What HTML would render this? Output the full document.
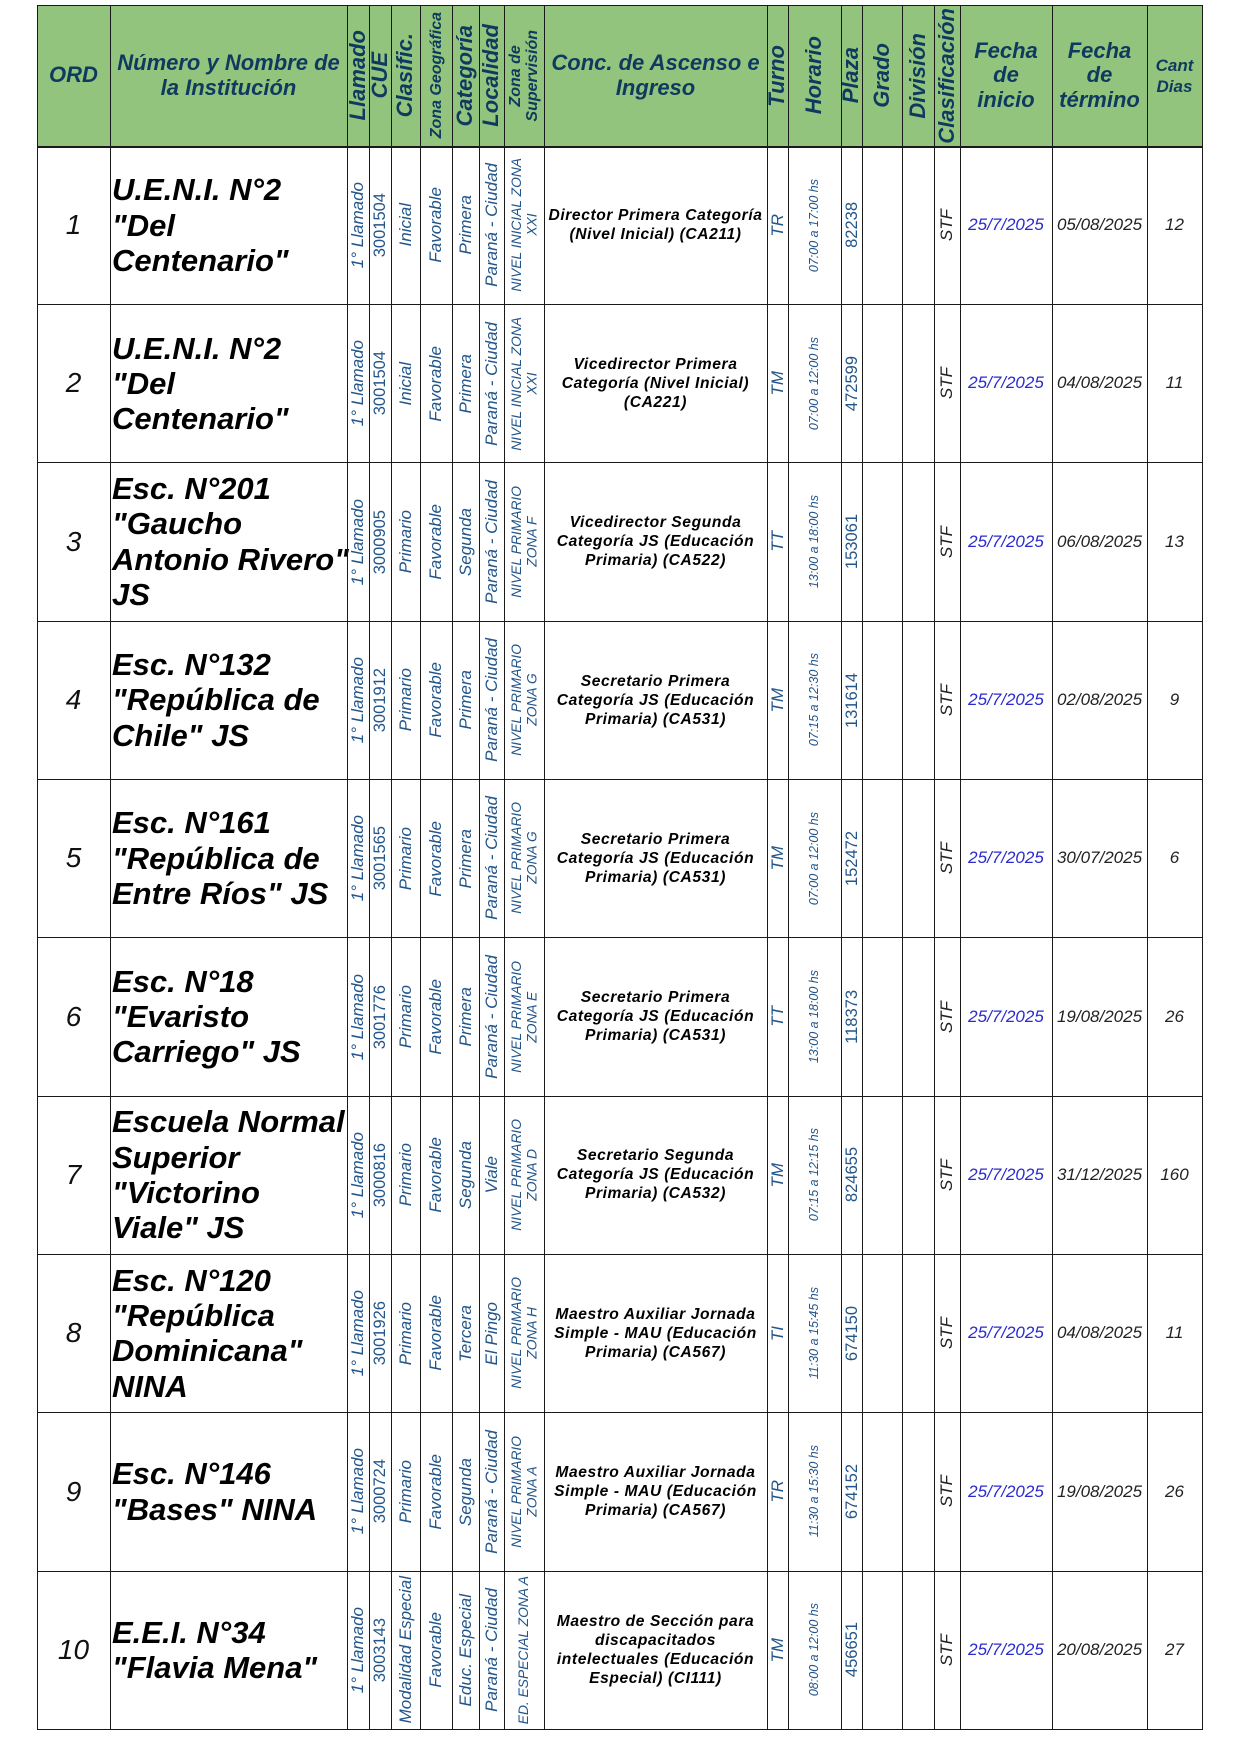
<!DOCTYPE html>
<html>
<head>
<meta charset="utf-8">
<style>
html,body{margin:0;padding:0;background:#fff;}
body{width:1240px;height:1755px;position:relative;overflow:hidden;font-family:"Liberation Sans",Arial,sans-serif;}
.hdr{position:absolute;left:37px;top:5px;width:1166px;height:141px;background:#93c47d;}
.vl{position:absolute;top:5px;width:1px;height:1725px;background:#1a1a1a;}
.hl{position:absolute;left:37px;width:1166px;height:1px;background:#1a1a1a;}
.row{position:absolute;left:0;width:1240px;height:158.3px;}
.hrow{position:absolute;left:0;top:5px;width:1240px;height:141px;}
.c{position:absolute;top:0;height:100%;display:flex;align-items:center;justify-content:center;text-align:center;white-space:nowrap;}
.r{writing-mode:vertical-rl;transform:rotate(180deg);white-space:nowrap;}
.k0{left:37px;width:73px}
.k1{left:110px;width:237px}
.k2{left:347px;width:22px}
.k3{left:369px;width:22px}
.k4{left:391px;width:29px}
.k5{left:420px;width:32px}
.k6{left:452px;width:27px}
.k7{left:479px;width:25px}
.k8{left:504px;width:40px}
.k9{left:544px;width:223px}
.k10{left:767px;width:21px}
.k11{left:788px;width:53px}
.k12{left:841px;width:21px}
.k13{left:862px;width:40px}
.k14{left:902px;width:32px}
.k15{left:934px;width:26px}
.k16{left:960px;width:92px}
.k17{left:1052px;width:95px}
.k18{left:1147px;width:55px}
/* header text */
.H{color:#0f3a5f;font-weight:bold;font-style:italic;font-size:22px;line-height:24.5px;}
.Hs{color:#0f3a5f;font-weight:bold;font-style:italic;font-size:16px;line-height:17px;}
.Hc{color:#0f3a5f;font-weight:bold;font-style:italic;font-size:17px;line-height:21px;}
/* body text */
.ord{font-style:italic;font-size:28px;color:#111;}
.nm{justify-content:flex-start;text-align:left;padding-left:2px;box-sizing:border-box;font-weight:bold;font-style:italic;font-size:31px;line-height:35.3px;color:#000;}
.bl{color:#22558a;font-style:italic;font-size:17px;line-height:20px;}
.bn{color:#22558a;font-style:normal;font-size:16.5px;line-height:20px;}
.zs{color:#22558a;font-style:italic;font-size:13.8px;line-height:15.5px;}
.hor{color:#22558a;font-style:italic;font-size:12.5px;line-height:15px;}
.cc{font-weight:bold;font-style:italic;font-size:15.6px;letter-spacing:0.6px;line-height:19px;color:#000;}
.stf{font-style:italic;font-size:17px;color:#222;line-height:20px;}
.di{font-style:italic;font-size:17px;color:#2b2bcf;}
.dt{font-style:italic;font-size:17px;color:#222;}
</style>
</head>
<body>
<div class="hdr"></div>

<!-- header -->
<div class="hrow">
<div class="c k0 H">ORD</div>
<div class="c k1 H">Número y Nombre de<br>la Institución</div>
<div class="c k2 H"><span class="r">Llamado</span></div>
<div class="c k3 H"><span class="r">CUE</span></div>
<div class="c k4 H"><span class="r">Clasific.</span></div>
<div class="c k5 Hs"><span class="r">Zona Geográfica</span></div>
<div class="c k6 H"><span class="r">Categoría</span></div>
<div class="c k7 H"><span class="r">Localidad</span></div>
<div class="c k8 Hs"><span class="r">Zona de<br>Supervisión</span></div>
<div class="c k9 H">Conc. de Ascenso e<br>Ingreso</div>
<div class="c k10 H"><span class="r">Turno</span></div>
<div class="c k11 H"><span class="r">Horario</span></div>
<div class="c k12 H"><span class="r">Plaza</span></div>
<div class="c k13 H"><span class="r">Grado</span></div>
<div class="c k14 H"><span class="r">División</span></div>
<div class="c k15 H"><span class="r">Clasificación</span></div>
<div class="c k16 H">Fecha<br>de<br>inicio</div>
<div class="c k17 H">Fecha<br>de<br>término</div>
<div class="c k18 Hc">Cant<br>Dias</div>
</div>

<!-- row 1 -->
<div class="row" style="top:146px">
<div class="c k0 ord">1</div>
<div class="c k1 nm">U.E.N.I. N°2<br>"Del<br>Centenario"</div>
<div class="c k2 bl"><span class="r">1° Llamado</span></div>
<div class="c k3 bn"><span class="r">3001504</span></div>
<div class="c k4 bl"><span class="r">Inicial</span></div>
<div class="c k5 bl"><span class="r">Favorable</span></div>
<div class="c k6 bl"><span class="r">Primera</span></div>
<div class="c k7 bl"><span class="r">Paraná - Ciudad</span></div>
<div class="c k8 zs"><span class="r">NIVEL INICIAL ZONA<br>XXI</span></div>
<div class="c k9 cc">Director Primera Categoría<br>(Nivel Inicial) (CA211)</div>
<div class="c k10 bl"><span class="r">TR</span></div>
<div class="c k11 hor"><span class="r">07:00 a 17:00 hs</span></div>
<div class="c k12 bn"><span class="r">82238</span></div>
<div class="c k15 stf"><span class="r">STF</span></div>
<div class="c k16 di">25/7/2025</div>
<div class="c k17 dt">05/08/2025</div>
<div class="c k18 dt">12</div>
</div>

<!-- row 2 -->
<div class="row" style="top:304.3px">
<div class="c k0 ord">2</div>
<div class="c k1 nm">U.E.N.I. N°2<br>"Del<br>Centenario"</div>
<div class="c k2 bl"><span class="r">1° Llamado</span></div>
<div class="c k3 bn"><span class="r">3001504</span></div>
<div class="c k4 bl"><span class="r">Inicial</span></div>
<div class="c k5 bl"><span class="r">Favorable</span></div>
<div class="c k6 bl"><span class="r">Primera</span></div>
<div class="c k7 bl"><span class="r">Paraná - Ciudad</span></div>
<div class="c k8 zs"><span class="r">NIVEL INICIAL ZONA<br>XXI</span></div>
<div class="c k9 cc">Vicedirector Primera<br>Categoría (Nivel Inicial)<br>(CA221)</div>
<div class="c k10 bl"><span class="r">TM</span></div>
<div class="c k11 hor"><span class="r">07:00 a 12:00 hs</span></div>
<div class="c k12 bn"><span class="r">472599</span></div>
<div class="c k15 stf"><span class="r">STF</span></div>
<div class="c k16 di">25/7/2025</div>
<div class="c k17 dt">04/08/2025</div>
<div class="c k18 dt">11</div>
</div>

<!-- row 3 -->
<div class="row" style="top:462.6px">
<div class="c k0 ord">3</div>
<div class="c k1 nm">Esc. N°201<br>"Gaucho<br>Antonio Rivero"<br>JS</div>
<div class="c k2 bl"><span class="r">1° Llamado</span></div>
<div class="c k3 bn"><span class="r">3000905</span></div>
<div class="c k4 bl"><span class="r">Primario</span></div>
<div class="c k5 bl"><span class="r">Favorable</span></div>
<div class="c k6 bl"><span class="r">Segunda</span></div>
<div class="c k7 bl"><span class="r">Paraná - Ciudad</span></div>
<div class="c k8 zs"><span class="r">NIVEL PRIMARIO<br>ZONA F</span></div>
<div class="c k9 cc">Vicedirector Segunda<br>Categoría JS (Educación<br>Primaria) (CA522)</div>
<div class="c k10 bl"><span class="r">TT</span></div>
<div class="c k11 hor"><span class="r">13:00 a 18:00 hs</span></div>
<div class="c k12 bn"><span class="r">153061</span></div>
<div class="c k15 stf"><span class="r">STF</span></div>
<div class="c k16 di">25/7/2025</div>
<div class="c k17 dt">06/08/2025</div>
<div class="c k18 dt">13</div>
</div>

<!-- row 4 -->
<div class="row" style="top:620.9px">
<div class="c k0 ord">4</div>
<div class="c k1 nm">Esc. N°132<br>"República de<br>Chile" JS</div>
<div class="c k2 bl"><span class="r">1° Llamado</span></div>
<div class="c k3 bn"><span class="r">3001912</span></div>
<div class="c k4 bl"><span class="r">Primario</span></div>
<div class="c k5 bl"><span class="r">Favorable</span></div>
<div class="c k6 bl"><span class="r">Primera</span></div>
<div class="c k7 bl"><span class="r">Paraná - Ciudad</span></div>
<div class="c k8 zs"><span class="r">NIVEL PRIMARIO<br>ZONA G</span></div>
<div class="c k9 cc">Secretario Primera<br>Categoría JS (Educación<br>Primaria) (CA531)</div>
<div class="c k10 bl"><span class="r">TM</span></div>
<div class="c k11 hor"><span class="r">07:15 a 12:30 hs</span></div>
<div class="c k12 bn"><span class="r">131614</span></div>
<div class="c k15 stf"><span class="r">STF</span></div>
<div class="c k16 di">25/7/2025</div>
<div class="c k17 dt">02/08/2025</div>
<div class="c k18 dt">9</div>
</div>

<!-- row 5 -->
<div class="row" style="top:779.2px">
<div class="c k0 ord">5</div>
<div class="c k1 nm">Esc. N°161<br>"República de<br>Entre Ríos" JS</div>
<div class="c k2 bl"><span class="r">1° Llamado</span></div>
<div class="c k3 bn"><span class="r">3001565</span></div>
<div class="c k4 bl"><span class="r">Primario</span></div>
<div class="c k5 bl"><span class="r">Favorable</span></div>
<div class="c k6 bl"><span class="r">Primera</span></div>
<div class="c k7 bl"><span class="r">Paraná - Ciudad</span></div>
<div class="c k8 zs"><span class="r">NIVEL PRIMARIO<br>ZONA G</span></div>
<div class="c k9 cc">Secretario Primera<br>Categoría JS (Educación<br>Primaria) (CA531)</div>
<div class="c k10 bl"><span class="r">TM</span></div>
<div class="c k11 hor"><span class="r">07:00 a 12:00 hs</span></div>
<div class="c k12 bn"><span class="r">152472</span></div>
<div class="c k15 stf"><span class="r">STF</span></div>
<div class="c k16 di">25/7/2025</div>
<div class="c k17 dt">30/07/2025</div>
<div class="c k18 dt">6</div>
</div>

<!-- row 6 -->
<div class="row" style="top:937.5px">
<div class="c k0 ord">6</div>
<div class="c k1 nm">Esc. N°18<br>"Evaristo<br>Carriego" JS</div>
<div class="c k2 bl"><span class="r">1° Llamado</span></div>
<div class="c k3 bn"><span class="r">3001776</span></div>
<div class="c k4 bl"><span class="r">Primario</span></div>
<div class="c k5 bl"><span class="r">Favorable</span></div>
<div class="c k6 bl"><span class="r">Primera</span></div>
<div class="c k7 bl"><span class="r">Paraná - Ciudad</span></div>
<div class="c k8 zs"><span class="r">NIVEL PRIMARIO<br>ZONA E</span></div>
<div class="c k9 cc">Secretario Primera<br>Categoría JS (Educación<br>Primaria) (CA531)</div>
<div class="c k10 bl"><span class="r">TT</span></div>
<div class="c k11 hor"><span class="r">13:00 a 18:00 hs</span></div>
<div class="c k12 bn"><span class="r">118373</span></div>
<div class="c k15 stf"><span class="r">STF</span></div>
<div class="c k16 di">25/7/2025</div>
<div class="c k17 dt">19/08/2025</div>
<div class="c k18 dt">26</div>
</div>

<!-- row 7 -->
<div class="row" style="top:1095.8px">
<div class="c k0 ord">7</div>
<div class="c k1 nm">Escuela Normal<br>Superior<br>"Victorino<br>Viale" JS</div>
<div class="c k2 bl"><span class="r">1° Llamado</span></div>
<div class="c k3 bn"><span class="r">3000816</span></div>
<div class="c k4 bl"><span class="r">Primario</span></div>
<div class="c k5 bl"><span class="r">Favorable</span></div>
<div class="c k6 bl"><span class="r">Segunda</span></div>
<div class="c k7 bl"><span class="r">Viale</span></div>
<div class="c k8 zs"><span class="r">NIVEL PRIMARIO<br>ZONA D</span></div>
<div class="c k9 cc">Secretario Segunda<br>Categoría JS (Educación<br>Primaria) (CA532)</div>
<div class="c k10 bl"><span class="r">TM</span></div>
<div class="c k11 hor"><span class="r">07:15 a 12:15 hs</span></div>
<div class="c k12 bn"><span class="r">824655</span></div>
<div class="c k15 stf"><span class="r">STF</span></div>
<div class="c k16 di">25/7/2025</div>
<div class="c k17 dt">31/12/2025</div>
<div class="c k18 dt">160</div>
</div>

<!-- row 8 -->
<div class="row" style="top:1254.1px">
<div class="c k0 ord">8</div>
<div class="c k1 nm">Esc. N°120<br>"República<br>Dominicana"<br>NINA</div>
<div class="c k2 bl"><span class="r">1° Llamado</span></div>
<div class="c k3 bn"><span class="r">3001926</span></div>
<div class="c k4 bl"><span class="r">Primario</span></div>
<div class="c k5 bl"><span class="r">Favorable</span></div>
<div class="c k6 bl"><span class="r">Tercera</span></div>
<div class="c k7 bl"><span class="r">El Pingo</span></div>
<div class="c k8 zs"><span class="r">NIVEL PRIMARIO<br>ZONA H</span></div>
<div class="c k9 cc">Maestro Auxiliar Jornada<br>Simple - MAU (Educación<br>Primaria) (CA567)</div>
<div class="c k10 bl"><span class="r">TI</span></div>
<div class="c k11 hor"><span class="r">11:30 a 15:45 hs</span></div>
<div class="c k12 bn"><span class="r">674150</span></div>
<div class="c k15 stf"><span class="r">STF</span></div>
<div class="c k16 di">25/7/2025</div>
<div class="c k17 dt">04/08/2025</div>
<div class="c k18 dt">11</div>
</div>

<!-- row 9 -->
<div class="row" style="top:1412.4px">
<div class="c k0 ord">9</div>
<div class="c k1 nm">Esc. N°146<br>"Bases" NINA</div>
<div class="c k2 bl"><span class="r">1° Llamado</span></div>
<div class="c k3 bn"><span class="r">3000724</span></div>
<div class="c k4 bl"><span class="r">Primario</span></div>
<div class="c k5 bl"><span class="r">Favorable</span></div>
<div class="c k6 bl"><span class="r">Segunda</span></div>
<div class="c k7 bl"><span class="r">Paraná - Ciudad</span></div>
<div class="c k8 zs"><span class="r">NIVEL PRIMARIO<br>ZONA A</span></div>
<div class="c k9 cc">Maestro Auxiliar Jornada<br>Simple - MAU (Educación<br>Primaria) (CA567)</div>
<div class="c k10 bl"><span class="r">TR</span></div>
<div class="c k11 hor"><span class="r">11:30 a 15:30 hs</span></div>
<div class="c k12 bn"><span class="r">674152</span></div>
<div class="c k15 stf"><span class="r">STF</span></div>
<div class="c k16 di">25/7/2025</div>
<div class="c k17 dt">19/08/2025</div>
<div class="c k18 dt">26</div>
</div>

<!-- row 10 -->
<div class="row" style="top:1570.7px">
<div class="c k0 ord">10</div>
<div class="c k1 nm">E.E.I. N°34<br>"Flavia Mena"</div>
<div class="c k2 bl"><span class="r">1° Llamado</span></div>
<div class="c k3 bn"><span class="r">3003143</span></div>
<div class="c k4 bl"><span class="r">Modalidad Especial</span></div>
<div class="c k5 bl"><span class="r">Favorable</span></div>
<div class="c k6 bl"><span class="r">Educ. Especial</span></div>
<div class="c k7 bl"><span class="r">Paraná - Ciudad</span></div>
<div class="c k8 zs"><span class="r">ED. ESPECIAL ZONA A</span></div>
<div class="c k9 cc">Maestro de Sección para<br>discapacitados<br>intelectuales (Educación<br>Especial) (CI111)</div>
<div class="c k10 bl"><span class="r">TM</span></div>
<div class="c k11 hor"><span class="r">08:00 a 12:00 hs</span></div>
<div class="c k12 bn"><span class="r">456651</span></div>
<div class="c k15 stf"><span class="r">STF</span></div>
<div class="c k16 di">25/7/2025</div>
<div class="c k17 dt">20/08/2025</div>
<div class="c k18 dt">27</div>
</div>

<!-- grid: vertical lines -->
<div class="vl" style="left:37px"></div>
<div class="vl" style="left:110px"></div>
<div class="vl" style="left:347px"></div>
<div class="vl" style="left:369px"></div>
<div class="vl" style="left:391px"></div>
<div class="vl" style="left:420px"></div>
<div class="vl" style="left:452px"></div>
<div class="vl" style="left:479px"></div>
<div class="vl" style="left:504px"></div>
<div class="vl" style="left:544px"></div>
<div class="vl" style="left:767px"></div>
<div class="vl" style="left:788px"></div>
<div class="vl" style="left:841px"></div>
<div class="vl" style="left:862px"></div>
<div class="vl" style="left:902px"></div>
<div class="vl" style="left:934px"></div>
<div class="vl" style="left:960px"></div>
<div class="vl" style="left:1052px"></div>
<div class="vl" style="left:1147px"></div>
<div class="vl" style="left:1202px"></div>

<!-- grid: horizontal lines -->
<div class="hl" style="top:5px"></div>
<div class="hl" style="top:146px;height:2px"></div>
<div class="hl" style="top:304px"></div>
<div class="hl" style="top:462px"></div>
<div class="hl" style="top:621px"></div>
<div class="hl" style="top:779px"></div>
<div class="hl" style="top:937px"></div>
<div class="hl" style="top:1096px"></div>
<div class="hl" style="top:1254px"></div>
<div class="hl" style="top:1412px"></div>
<div class="hl" style="top:1571px"></div>
<div class="hl" style="top:1729px"></div>
</body>
</html>
